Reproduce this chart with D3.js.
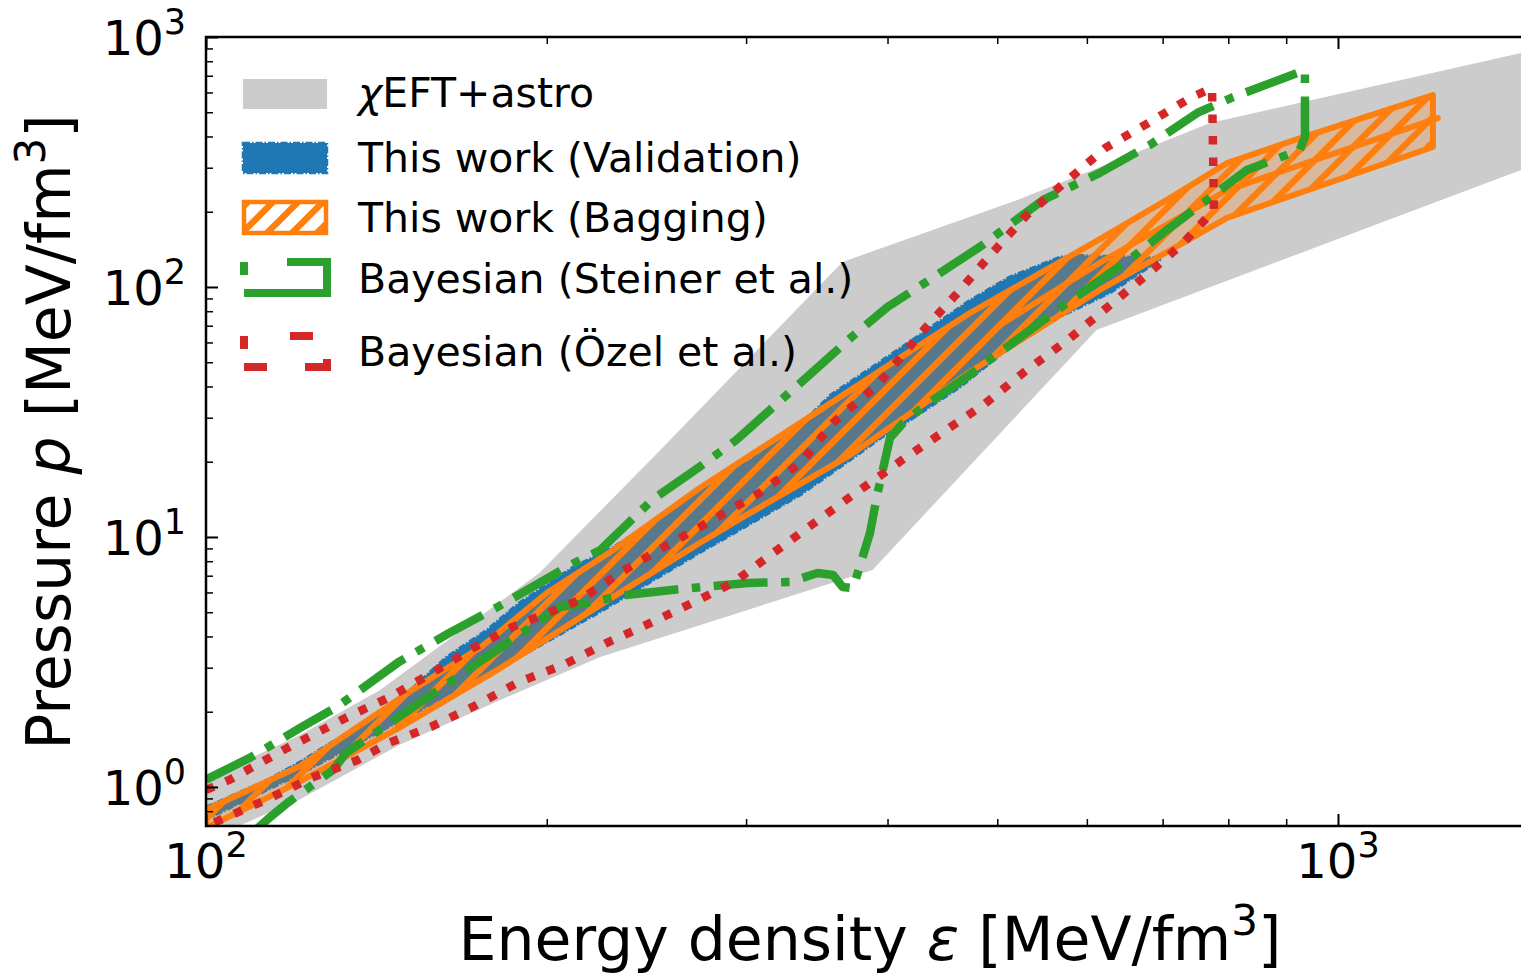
<!DOCTYPE html>
<html>
<head>
<meta charset="utf-8">
<script src="https://cdn.jsdelivr.net/npm/d3@7"></script>
<style>
body { margin: 0; background: #fff; }
svg { display: block; font-family: "DejaVu Sans", sans-serif; }
</style>
</head>
<body>
<svg id="chart" width="1521" height="973"></svg>
<script>
// --- data (energy density in MeV/fm^3, pressure in MeV/fm^3) ---

// chiEFT + astro band
const grayUpE = [100, 121, 142.5, 197, 252, 365, 521, 771, 1451]
const grayUpP = [1.08, 1.61, 2.44, 7.18, 22.3, 126, 223, 453, 863]
const grayLoE = [100, 107, 121, 148, 182, 223, 388, 612, 1451]
const grayLoP = [0.60, 0.70, 0.89, 1.47, 2.23, 3.31, 7.38, 67.3, 294]

// This work (Validation)
const valUpE = [100, 113.2, 121, 131.3, 150.5, 163, 177, 189, 211, 229, 255, 273, 302, 335, 356, 396, 433, 473, 513, 568, 592, 696]
const valUpP = [0.832, 1.067, 1.259, 1.585, 2.38, 3.31, 4.25, 5.45, 7.59, 9.12, 12.5, 15.4, 20.3, 28.1, 37.0, 51.1, 67.3, 88.7, 110, 132, 134, 131]
const valLoE = [100, 121, 148, 182, 223, 273, 302, 335, 371, 396, 413, 464, 506, 568, 629, 696]
const valLoP = [0.74, 1.12, 1.82, 2.99, 5.01, 8.63, 11.2, 14.7, 20.3, 25.1, 28.1, 39.8, 54.5, 75.9, 94.6, 128]

// This work (Bagging)
const bagUpE = [100, 121, 152, 175, 200, 229, 273, 335, 410, 473, 608, 706, 798, 926, 1213]
const bagUpP = [0.81, 1.21, 2.44, 3.63, 5.97, 8.87, 15.7, 28.6, 52.0, 78.7, 150, 223, 313, 394, 586]
const bagLoE = [100, 121, 148, 182, 223, 273, 298, 371, 473, 616, 696, 798, 1213]
const bagLoP = [0.685, 1.05, 1.72, 2.99, 5.35, 9.46, 12.0, 21.3, 45.7, 97.3, 133, 189, 363]
const bagMidE = [503, 616, 798, 1225]
const bagMidP = [70.5, 125, 244, 474]

// Bayesian (Steiner et al.) contour: upper edge, drop, lower edge back
const steinerE = [100, 109.4, 121, 130.5, 148, 164, 181, 210, 223, 248, 273, 294, 317, 335, 371, 400, 436, 483, 549, 616,
  682, 751, 808, 901, 935, 935, 925, 831, 706, 659, 604, 560, 506, 470, 430, 413, 402, 392, 386, 373,
  365, 358, 347, 328, 301, 268, 235, 217, 205.5, 133, 129.5, 118, 114, 109.4]
const steinerP = [1.07, 1.31, 1.72, 2.09, 3.16, 4.13, 5.25, 7.73, 8.87, 14.1, 19.1, 24.4, 33.1, 41.3, 62.5, 83.2, 107, 145, 223, 286,
  370, 497, 575, 692, 738, 398, 353, 294, 169, 132, 100, 78.7, 56.0, 43.7, 33.1, 28.6, 24.9, 15.0, 10.4, 6.25,
  6.31, 7.05, 7.18, 6.61, 6.55, 6.25, 5.86, 5.45, 5.25, 1.37, 1.17, 0.863, 0.759, 0.643]

// Bayesian (Ozel et al.) contour
const ozelE = [100, 105, 117.9, 133.5, 145.4, 158.4, 172.2, 186.7, 214, 232, 253, 283, 309, 336, 358, 392, 432, 462, 493, 531,
  623, 680, 740, 774, 777, 730, 678, 626, 580, 527, 486, 448, 412, 371, 343, 317, 292, 269, 247, 226,
  207, 189, 172, 158, 145, 136, 124, 114, 104.4, 100]
const ozelP = [0.973, 1.07, 1.43, 1.91, 2.29, 2.86, 3.60, 4.37, 5.60, 7.18, 9.04, 12.0, 15.1, 20.0, 28.6, 40.6, 68.5, 95.5, 134, 194,
  360, 453, 570, 625, 203, 150, 112, 83.2, 62.5, 45.3, 33.7, 26.3, 20.3, 14.5, 11.2, 8.63, 6.55, 5.45, 4.53, 3.77,
  3.08, 2.63, 2.09, 1.74, 1.50, 1.28, 1.09, 0.904, 0.759, 0.698]

const xMajorTicks = [100, 1000]
const yMajorTicks = [1, 10, 100, 1000]
const legendLabels = ['EFT+astro', 'This work (Validation)', 'This work (Bagging)', 'Bayesian (Steiner et al.)', 'Bayesian (Özel et al.)']

// --- layout ---
const plotL = 206, plotR = 1521, plotT = 37, plotB = 826
const gray = '#cccccc', blue = '#1f77b4', orange = '#ff7f0e', green = '#2ca02c', red = '#d62728'

const svg = d3.select('#chart')
const x = d3.scaleLog().domain([100, 1451]).range([plotL, plotR])
const y = d3.scaleLog().domain([0.698, 1000]).range([plotB, plotT])

const zipPts = (es, ps) => es.map((e, i) => [e, ps[i]])
const bandPts = (upE, upP, loE, loP) => zipPts(upE, upP).concat(zipPts(loE, loP).reverse())
const line = d3.line().x(d => x(d[0])).y(d => y(d[1]))

const defs = svg.append('defs')
defs.append('clipPath').attr('id', 'clip')
	.append('rect').attr('x', plotL).attr('y', plotT).attr('width', plotR - plotL).attr('height', plotB - plotT)

const hatch = defs.append('pattern').attr('id', 'hatch')
	.attr('patternUnits', 'userSpaceOnUse').attr('width', 25).attr('height', 25)
hatch.append('path')
	.attr('d', 'M-6,6 L6,-6 M0,25 L25,0 M19,31 L31,19')
	.attr('stroke', orange).attr('stroke-width', 6.5)

const plot = svg.append('g').attr('clip-path', 'url(#clip)')

// gray band
plot.append('path')
	.attr('d', line(bandPts(grayUpE, grayUpP, grayLoE, grayLoP)) + 'Z')
	.attr('fill', gray)

// validation band
plot.append('path')
	.attr('d', line(bandPts(valUpE, valUpP, valLoE, valLoP)) + 'Z')
	.attr('fill', blue)
	.attr('stroke', blue).attr('stroke-width', 2.5).attr('stroke-dasharray', '7,2,1.5,2')

// bagging band
const bagD = line(bandPts(bagUpE, bagUpP, bagLoE, bagLoP)) + 'Z'
plot.append('path').attr('d', bagD).attr('fill', orange).attr('fill-opacity', 0.25)
plot.append('path').attr('d', bagD).attr('fill', 'url(#hatch)')
plot.append('path').attr('d', bagD)
	.attr('fill', 'none').attr('stroke', orange).attr('stroke-width', 6).attr('stroke-linejoin', 'round')
plot.append('path').attr('d', line(zipPts(bagMidE, bagMidP)))
	.attr('fill', 'none').attr('stroke', orange).attr('stroke-width', 6).attr('stroke-linecap', 'round')

// Steiner contour
plot.append('path').attr('d', line(zipPts(steinerE, steinerP)))
	.attr('fill', 'none').attr('stroke', green).attr('stroke-width', 8.5)
	.attr('stroke-dasharray', '54,13.5,8.5,13.5').attr('stroke-linejoin', 'round')

// Ozel contour
plot.append('path').attr('d', line(zipPts(ozelE, ozelP)))
	.attr('fill', 'none').attr('stroke', red).attr('stroke-width', 8.5)
	.attr('stroke-dasharray', '8.5,13').attr('stroke-linejoin', 'round')

// --- axes: inward ticks ---
const xMinor = []
for (let m = 2; m <= 9; m++) xMinor.push(m * 100)
const yMinor = [0.8, 0.9]
for (const k of [1, 10, 100]) for (let m = 2; m <= 9; m++) yMinor.push(m * k)

const tickStyle = (g, w) => {
	g.select('.domain').remove()
	g.selectAll('.tick line').attr('stroke', '#000').attr('stroke-width', w)
	g.selectAll('.tick text').remove()
}

svg.append('g').attr('transform', `translate(${plotL},0)`)
	.call(d3.axisLeft(y).tickValues(yMajorTicks).tickSize(-12)).call(g => tickStyle(g, 2))
svg.append('g').attr('transform', `translate(${plotL},0)`)
	.call(d3.axisLeft(y).tickValues(yMinor).tickSize(-7)).call(g => tickStyle(g, 1.5))
svg.append('g').attr('transform', `translate(0,${plotB})`)
	.call(d3.axisBottom(x).tickValues(xMajorTicks).tickSize(-12)).call(g => tickStyle(g, 2))
svg.append('g').attr('transform', `translate(0,${plotB})`)
	.call(d3.axisBottom(x).tickValues(xMinor).tickSize(-7)).call(g => tickStyle(g, 1.5))
svg.append('g').attr('transform', `translate(0,${plotT})`)
	.call(d3.axisTop(x).tickValues(xMajorTicks).tickSize(-12)).call(g => tickStyle(g, 2))
svg.append('g').attr('transform', `translate(0,${plotT})`)
	.call(d3.axisTop(x).tickValues(xMinor).tickSize(-7)).call(g => tickStyle(g, 1.5))

// spines
svg.append('path')
	.attr('d', `M${plotR},${plotT} L${plotL},${plotT} L${plotL},${plotB} L${plotR},${plotB}`)
	.attr('fill', 'none').attr('stroke', '#000').attr('stroke-width', 2.5)

// tick labels 10^n
const powLabel = (sel) => {
	sel.text('10')
	sel.append('tspan').attr('dy', -21).attr('font-size', 35).text(d => Math.round(Math.log10(d)))
}
svg.selectAll('.ylab').data(yMajorTicks).enter().append('text')
	.attr('class', 'ylab')
	.attr('x', 186).attr('y', d => y(d) + 18)
	.attr('text-anchor', 'end').attr('font-size', 48)
	.call(powLabel)
svg.selectAll('.xlab').data(xMajorTicks).enter().append('text')
	.attr('class', 'xlab')
	.attr('x', d => x(d)).attr('y', 878)
	.attr('text-anchor', 'middle').attr('font-size', 48)
	.call(powLabel)

// axis titles
const xt = svg.append('text').attr('x', 870).attr('y', 960)
	.attr('text-anchor', 'middle').attr('font-size', 60)
xt.append('tspan').text('Energy density ')
xt.append('tspan').attr('font-style', 'italic').text('ε')
xt.append('tspan').text(' [MeV/fm')
xt.append('tspan').attr('dy', -25).attr('font-size', 42).text('3')
xt.append('tspan').attr('dy', 25).text(']')

const yt = svg.append('text').attr('transform', 'translate(70,432) rotate(-90)')
	.attr('text-anchor', 'middle').attr('font-size', 60)
yt.append('tspan').text('Pressure ')
yt.append('tspan').attr('font-style', 'italic').text('p')
yt.append('tspan').text(' [MeV/fm')
yt.append('tspan').attr('dy', -25).attr('font-size', 42).text('3')
yt.append('tspan').attr('dy', 25).text(']')

// --- legend ---
const legX = 243, legW = 84
const handleY = [79, 143, 202, 262, 336]
const textY = [107, 172, 232, 293, 366]
const leg = svg.append('g')

leg.append('rect').attr('x', legX).attr('y', handleY[0]).attr('width', legW).attr('height', 30).attr('fill', gray)
leg.append('rect').attr('x', legX).attr('y', handleY[1]).attr('width', legW).attr('height', 30)
	.attr('fill', blue).attr('stroke', blue).attr('stroke-width', 2.5).attr('stroke-dasharray', '7,2,1.5,2')
leg.append('rect').attr('x', legX + 1).attr('y', handleY[2]).attr('width', legW - 2).attr('height', 31)
	.attr('fill', 'url(#hatch)').attr('stroke', orange).attr('stroke-width', 4.5)

const rectOutline = (x0, y0, w, h) => `M${x0},${y0 + h} L${x0},${y0} L${x0 + w},${y0} L${x0 + w},${y0 + h} Z`
leg.append('path').attr('d', rectOutline(legX + 1, handleY[3], 83, 31))
	.attr('fill', 'none').attr('stroke', green).attr('stroke-width', 8)
	.attr('stroke-dasharray', '0,18,13,43,230')
leg.append('path').attr('d', rectOutline(legX + 1, handleY[4], 83, 31))
	.attr('fill', 'none').attr('stroke', red).attr('stroke-width', 8)
	.attr('stroke-dasharray', '0,18,13,46,23,37,30,38,23,40')

legendLabels.forEach((lab, i) => {
	const t = leg.append('text').attr('x', 358).attr('y', textY[i]).attr('font-size', 41)
	if (i === 0) t.append('tspan').attr('font-style', 'italic').text('χ')
	t.append('tspan').text(lab)
})
</script>
</body>
</html>
